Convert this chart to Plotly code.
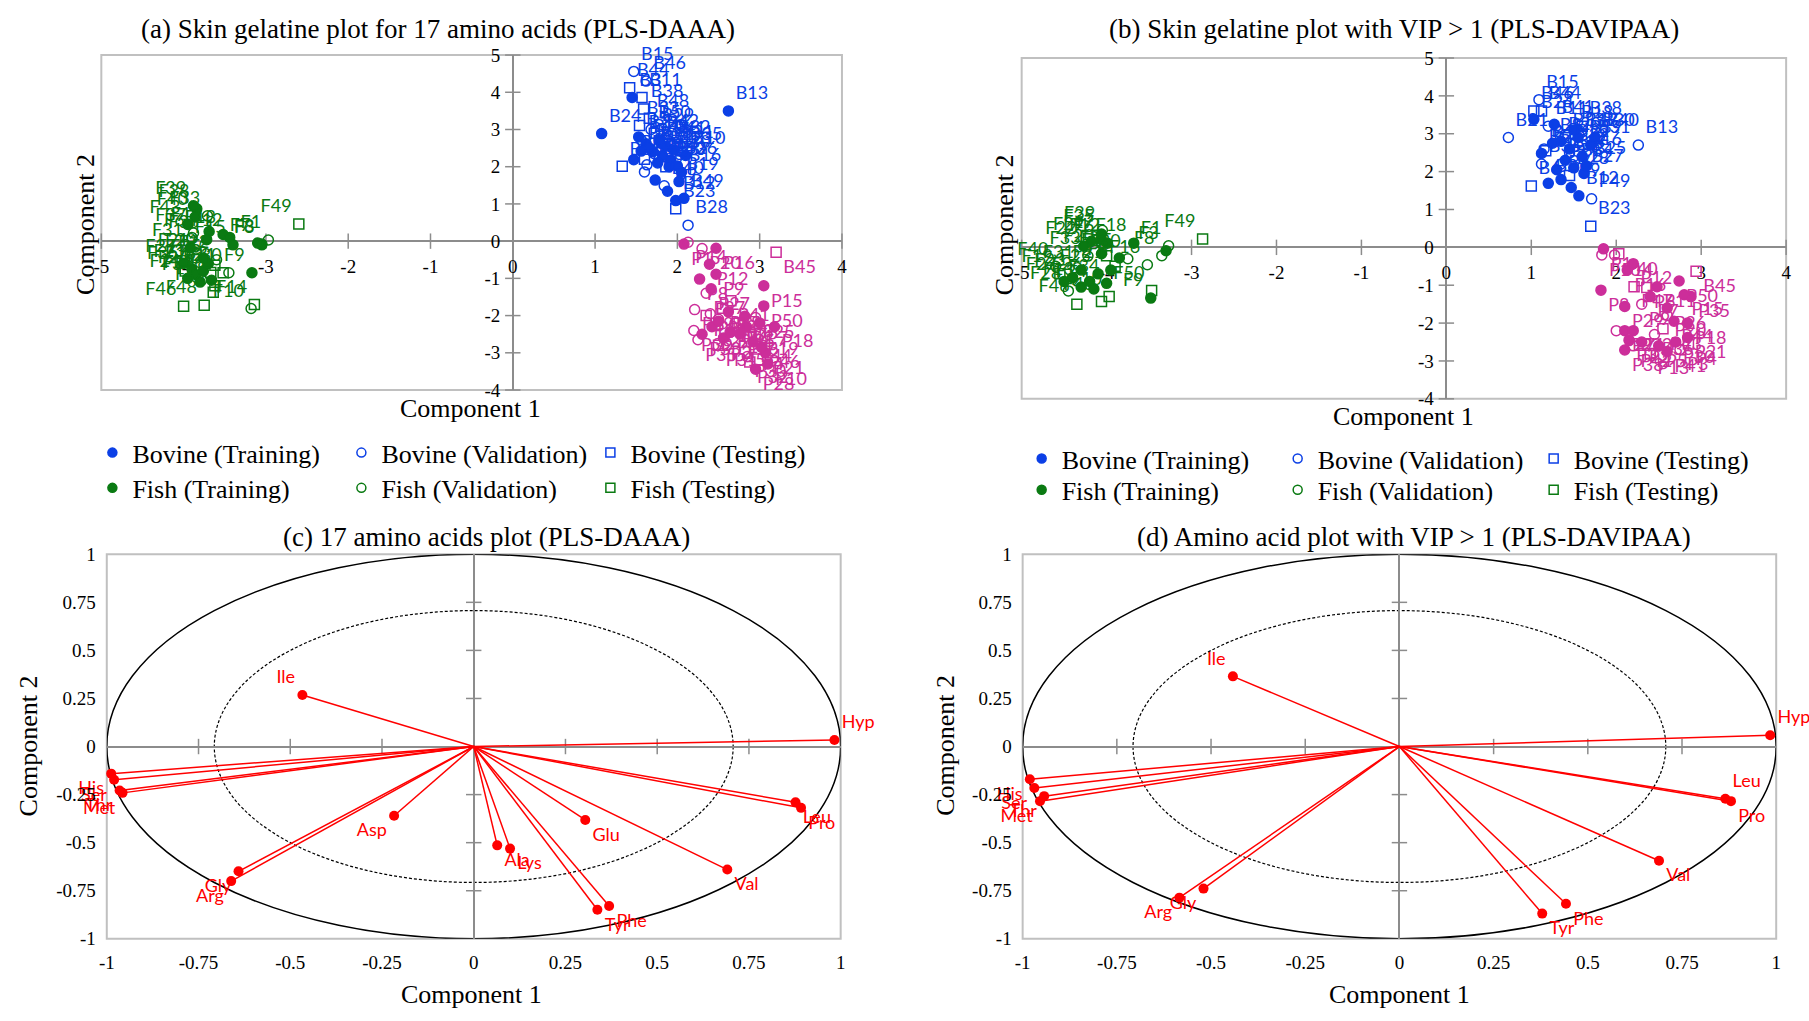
import plotly.graph_objects as go

W, H = 1809, 1021

# ---------------- Panel (a) data : PLS-DAAA scores ----------------
a_bt_x = [2.62, 1.08, 1.45, 1.53, 1.47, 1.73, 1.88, 1.98, 2.08, 1.62, 1.70, 1.82, 1.92, 2.00, 1.76, 2.05, 1.66, 1.86, 1.96, 2.10, 1.56, 2.02, 1.78, 1.90]
a_bt_y = [3.50, 2.89, 3.86, 2.80, 2.19, 1.64, 1.34, 1.09, 1.15, 2.62, 2.40, 2.30, 2.18, 2.02, 2.10, 1.85, 2.50, 2.55, 2.45, 2.30, 2.42, 1.60, 2.70, 2.00]
a_bt_l = ["B13", "B24", "B3", "B5", "B1", "B7", "B9", "B12", "B49", "B20", "B22", "B17", "B30", "B26", "B14", "B16", "B34", "B41", "B31", "B10", "B8", "B19", "B4", "B37"]
a_bv_x = [1.47, 1.62, 2.13, 1.60, 1.84, 1.56, 1.72, 1.92, 2.06, 1.63, 1.78, 1.68]
a_bv_y = [4.56, 4.30, 0.43, 1.86, 1.49, 2.72, 2.35, 2.60, 2.40, 2.05, 2.75, 3.00]
a_bv_l = ["B15", "B46", "B28", "B36", "B40", "B2", "B21", "B32", "B35", "B39", "B42", "B50"]
a_bs_x = [1.42, 1.57, 1.59, 1.54, 1.33, 1.98, 1.60, 1.72, 1.86, 1.66]
a_bs_y = [4.12, 3.86, 3.55, 3.11, 2.01, 0.87, 2.20, 2.90, 2.00, 3.30]
a_bs_l = ["B44", "B11", "B38", "B33", "B6", "B23", "B27", "B29", "B43", "B48"]

a_pt_x = [2.08, 2.47, 2.39, 2.27, 2.47, 2.41, 3.05, 3.05, 2.62, 2.82, 3.00, 3.18, 2.42, 2.56, 2.76, 2.92, 3.07, 2.95, 3.10, 2.64, 2.30, 2.84, 2.50, 3.02]
a_pt_y = [-0.08, -0.19, -0.62, -1.02, -0.89, -1.28, -1.20, -1.74, -1.90, -2.02, -2.20, -2.30, -2.30, -2.60, -2.50, -2.70, -3.00, -3.44, -3.30, -2.45, -2.50, -2.30, -2.15, -2.85]
a_pt_l = ["P1", "P16", "P12", "P8", "P9", "P27", "P15", "P50", "P24", "P3", "P7", "P18", "P22", "P2", "P26", "P44", "P21", "P28", "P10", "P13", "P33", "P5", "P17", "P46"]
a_pv_x = [2.13, 2.21, 2.30, 2.35, 2.20, 2.25, 2.50, 2.70, 3.00, 2.85, 2.60, 2.40, 2.95]
a_pv_y = [-0.03, -1.84, -0.20, -1.40, -2.40, -2.65, -2.10, -2.20, -2.50, -3.10, -2.80, -1.95, -2.05]
a_pv_l = ["P14", "P29", "P20", "P37", "P39", "P35", "P40", "P42", "P19", "P30", "P45", "P34", "P25"]
a_ps_x = [3.20, 2.55, 2.75, 2.50, 2.95, 2.35, 2.65, 2.88]
a_ps_y = [-0.30, -1.80, -2.20, -2.80, -2.90, -2.00, -1.60, -3.25]
a_ps_l = ["B45", "P48", "P6", "P31", "P4", "P11", "P41", "P32"]

a_ft_x = [-3.84, -3.86, -3.52, -3.44, -3.40, -3.69, -3.72, -3.92, -3.17, -3.05, -4.00, -3.90, -3.85, -3.76, -3.95, -3.80, -3.70, -3.66, -3.95, -3.76, -3.10, -3.88]
a_ft_y = [0.87, 0.65, 0.18, 0.10, -0.10, 0.26, 0.04, -0.18, -0.85, -0.10, -0.60, -0.75, -0.90, -0.80, -1.00, -1.10, -0.60, -1.05, 0.45, -0.45, -0.05, 0.95]
a_ft_l = ["F38", "F40", "F18", "F12", "F15", "F17", "F35", "F31", "F9", "F3", "F27", "F23", "F26", "F13", "F24", "F34", "F25", "F16", "F43", "F20", "F7", "F39"]
a_fv_x = [-2.97, -3.05, -3.71, -3.90, -3.88, -3.18, -3.45, -3.85, -3.78, -3.60]
a_fv_y = [0.03, -0.08, 0.68, 0.10, 0.22, -1.81, -0.85, -0.45, -1.05, -0.50]
a_fv_l = ["F1", "F8", "F33", "F6", "F37", "F10", "F30", "F21", "F28", "F22"]
a_fs_x = [-2.60, -3.14, -3.67, -3.52, -3.64, -3.75, -3.62, -3.62, -4.00, -3.98]
a_fs_y = [0.46, -1.70, -0.84, -0.85, -1.37, -1.72, -0.65, -1.20, -1.75, -0.80]
a_fs_l = ["F49", "F14", "F2", "F11", "F44", "F48", "F5", "F19", "F46", "F36"]

# ---------------- Panel (b) data : PLS-DAVIPAA scores ----------------
b_bt_x = [1.03, 1.27, 1.20, 1.35, 1.47, 1.56, 1.62, 1.12, 1.35, 1.45, 1.55, 1.60, 1.40, 1.70, 1.50, 1.30, 1.65, 1.25, 1.75, 1.50]
b_bt_y = [3.38, 3.25, 1.69, 1.79, 1.58, 1.36, 1.95, 2.48, 2.80, 2.60, 2.90, 2.40, 2.30, 2.70, 3.10, 2.05, 2.15, 2.75, 2.90, 2.10]
b_bt_l = ["B24", "B41", "B2", "B7", "B9", "B12", "B27", "B5", "B20", "B22", "B17", "B16", "B14", "B31", "B18", "B3", "B25", "B8", "B30", "B34"]
b_bv_x = [2.26, 0.73, 1.09, 1.71, 1.12, 1.20, 1.60, 1.45, 1.80, 1.15, 1.35]
b_bv_y = [2.70, 2.90, 3.90, 1.28, 2.20, 3.20, 2.70, 2.50, 2.90, 2.60, 2.20]
b_bv_l = ["B13", "B21", "B15", "P49", "B36", "B11", "B39", "B32", "B40", "B42", "B35"]
b_bs_x = [1.03, 1.12, 1.00, 1.70, 1.17, 1.45, 1.40, 1.60]
b_bs_y = [3.60, 3.60, 1.62, 0.56, 2.55, 1.90, 2.90, 3.20]
b_bs_l = ["B46", "B44", "B6", "B23", "B26", "B28", "B33", "B38"]

b_pt_x = [1.85, 2.13, 2.20, 1.82, 2.74, 2.88, 2.10, 2.48, 2.60, 2.68, 2.84, 2.10, 2.20, 2.10, 2.84, 2.30, 2.50, 2.70, 2.40, 2.15, 2.60, 2.80]
b_pt_y = [-0.04, -0.60, -0.43, -1.13, -0.89, -1.30, -1.56, -1.04, -1.60, -1.95, -2.00, -2.20, -2.20, -2.71, -2.38, -2.50, -2.60, -2.50, -1.30, -2.45, -2.75, -1.25]
b_pt_l = ["P1", "P16", "P12", "P8", "P50", "P35", "P29", "P11", "P26", "P44", "P18", "P24", "P22", "P38", "P21", "P2", "P5", "P30", "P7", "P33", "P41", "P15"]
b_pv_x = [1.83, 1.98, 2.00, 2.30, 2.45, 2.75, 2.20, 2.60]
b_pv_y = [-0.20, -0.20, -2.20, -1.50, -2.30, -2.70, -2.60, -1.80]
b_pv_l = ["P10", "P14", "P27", "P9", "P36", "P3", "P42", "P20"]
b_ps_x = [2.03, 2.94, 2.21, 2.36, 2.55, 2.40, 2.85]
b_ps_y = [-0.17, -0.63, -1.04, -1.06, -2.15, -2.80, -2.55]
b_ps_l = ["P40", "B45", "P47", "P6", "P43", "P13", "P4"]

b_ft_x = [-3.30, -3.48, -3.68, -4.06, -4.06, -4.18, -4.27, -3.99, -3.85, -4.06, -4.30, -4.40, -4.20, -4.10, -4.00, -4.30, -4.50, -4.15, -3.95]
b_ft_y = [-0.09, -1.34, 0.11, 0.35, 0.20, 0.16, 0.03, 0.11, -0.28, -0.17, -0.60, -0.80, -0.90, -0.70, -0.95, -1.05, -0.90, -1.10, -0.60]
b_ft_l = ["F3", "F9", "F18", "F35", "F17", "F29", "F22", "F12", "F15", "F20", "F31", "F23", "F26", "F25", "F34", "F13", "F27", "F24", "F21"]
b_fv_x = [-3.27, -3.35, -4.06, -4.22, -3.75, -3.52, -4.60, -4.45, -4.05]
b_fv_y = [0.04, -0.22, 0.10, -0.23, -0.30, -0.46, -0.50, -1.15, 0.45]
b_fv_l = ["F1", "F8", "F6", "F33", "F30", "F16", "F40", "F28", "F39"]
b_fs_x = [-2.87, -3.47, -4.00, -3.97, -4.06, -3.90, -4.35, -4.55]
b_fs_y = [0.22, -1.14, -0.22, -1.30, -1.43, -0.50, -1.50, -0.70]
b_fs_l = ["F49", "F50", "F2", "F10", "F48", "F5", "F46", "F19"]

# ---------------- Panel (c) / (d) data : loadings ----------------
c_names = ["Hyp", "Ile", "His", "Ser", "Thr", "Met", "Asp", "Gly", "Arg", "Ala", "Lys", "Glu", "Tyr", "Phe", "Val", "Leu", "Pro"]
c_x = [0.983, -0.467, -0.988, -0.980, -0.965, -0.957, -0.217, -0.641, -0.661, 0.064, 0.099, 0.304, 0.337, 0.369, 0.691, 0.877, 0.892]
c_y = [0.034, 0.268, -0.141, -0.173, -0.229, -0.241, -0.360, -0.649, -0.700, -0.514, -0.531, -0.382, -0.849, -0.829, -0.640, -0.290, -0.319]
c_pos = ["top right", "top left", "bottom left", "bottom left", "bottom left", "bottom left", "bottom left", "bottom left", "bottom left",
         "bottom right", "bottom right", "bottom right", "bottom right", "bottom right", "bottom right", "bottom right", "bottom right"]

d_names = ["Hyp", "Ile", "His", "Ser", "Thr", "Met", "Gly", "Arg", "Tyr", "Phe", "Val", "Leu", "Pro"]
d_x = [0.984, -0.442, -0.981, -0.969, -0.943, -0.954, -0.520, -0.584, 0.379, 0.442, 0.689, 0.865, 0.880]
d_y = [0.059, 0.365, -0.170, -0.216, -0.258, -0.284, -0.739, -0.786, -0.869, -0.818, -0.594, -0.272, -0.284]
d_pos = ["top right", "top left", "bottom left", "bottom left", "bottom left", "bottom left", "bottom left", "bottom left",
         "bottom right", "bottom right", "bottom right", "top right", "bottom right"]

# ticks
ab_xticks = [-5, -4, -3, -2, -1, 0, 1, 2, 3, 4]
ab_yticks = [-4, -3, -2, -1, 0, 1, 2, 3, 4, 5]
cd_ticks = [-1, -0.75, -0.5, -0.25, 0, 0.25, 0.5, 0.75, 1]
cd_ticktext = ["-1", "-0.75", "-0.5", "-0.25", "0", "0.25", "0.5", "0.75", "1"]

legend_names = ["Bovine (Training)", "Bovine (Validation)", "Bovine (Testing)",
                "Fish (Training)", "Fish (Validation)", "Fish (Testing)"]

# ---------------- styles ----------------
BLUE = "#0B3FE6"
GREEN = "#0A7A12"
PINK = "#CC2E9A"
RED = "#FF0000"
AXG = "#8C8C8C"
FRAME = "#C0C0C0"
SERIF = "Liberation Serif"
SANS = "Lato"


def px(x):
    return x / W


def py(y):
    return 1 - y / H


A_X = [px(94), px(840)]
A_Y = [py(388), py(46)]
B_X = [px(1021), px(1791)]
B_Y = [py(397), py(49)]
C_X = [px(99.5), px(838.7)]
C_Y = [py(948.3), py(555.7)]
D_X = [px(1022), px(1781)]
D_Y = C_Y

fig = go.Figure()


def pts(x, y, lab, xa, ya, color, symbol, tpos):
    fig.add_trace(go.Scatter(
        x=x, y=y, text=lab, mode="markers+text", xaxis=xa, yaxis=ya,
        marker=dict(symbol=symbol, size=10, color=color, line=dict(color=color, width=1.5)),
        textposition=tpos, textfont=dict(family=SANS, size=18, color=color),
        showlegend=False, cliponaxis=False, hoverinfo="skip"))


def tickmarks(xa, ya, xt, yt):
    xs = [v for v in xt if v != 0]
    ys = [v for v in yt if v != 0]
    fig.add_trace(go.Scatter(x=xs, y=[0] * len(xs), mode="markers", xaxis=xa, yaxis=ya,
                             marker=dict(symbol="line-ns", size=11, line=dict(color=AXG, width=1.5)),
                             showlegend=False, hoverinfo="skip", cliponaxis=False))
    fig.add_trace(go.Scatter(x=[0] * len(ys), y=ys, mode="markers", xaxis=xa, yaxis=ya,
                             marker=dict(symbol="line-ew", size=11, line=dict(color=AXG, width=1.5)),
                             showlegend=False, hoverinfo="skip", cliponaxis=False))


# score plots
tickmarks("x", "y", ab_xticks, ab_yticks)
tickmarks("x2", "y2", ab_xticks, ab_yticks)

for (xa, ya, groups) in [
    ("x", "y", [
        (a_bt_x, a_bt_y, a_bt_l, BLUE, "circle", "top right"),
        (a_bv_x, a_bv_y, a_bv_l, BLUE, "circle-open", "top right"),
        (a_bs_x, a_bs_y, a_bs_l, BLUE, "square-open", "top right"),
        (a_pt_x, a_pt_y, a_pt_l, PINK, "circle", "bottom right"),
        (a_pv_x, a_pv_y, a_pv_l, PINK, "circle-open", "bottom right"),
        (a_ps_x, a_ps_y, a_ps_l, PINK, "square-open", "bottom right"),
        (a_ft_x, a_ft_y, a_ft_l, GREEN, "circle", "top left"),
        (a_fv_x, a_fv_y, a_fv_l, GREEN, "circle-open", "top left"),
        (a_fs_x, a_fs_y, a_fs_l, GREEN, "square-open", "top left")]),
    ("x2", "y2", [
        (b_bt_x, b_bt_y, b_bt_l, BLUE, "circle", "top right"),
        (b_bv_x, b_bv_y, b_bv_l, BLUE, "circle-open", "top right"),
        (b_bs_x, b_bs_y, b_bs_l, BLUE, "square-open", "top right"),
        (b_pt_x, b_pt_y, b_pt_l, PINK, "circle", "bottom right"),
        (b_pv_x, b_pv_y, b_pv_l, PINK, "circle-open", "bottom right"),
        (b_ps_x, b_ps_y, b_ps_l, PINK, "square-open", "bottom right"),
        (b_ft_x, b_ft_y, b_ft_l, GREEN, "circle", "top left"),
        (b_fv_x, b_fv_y, b_fv_l, GREEN, "circle-open", "top left"),
        (b_fs_x, b_fs_y, b_fs_l, GREEN, "square-open", "top left")]),
]:
    for g in groups:
        pts(g[0], g[1], g[2], xa, ya, g[3], g[4], g[5])

# legend entries
sym = ["circle", "circle-open", "square-open"]
for (xa, ya, lg1, lg2) in [("x", "y", "legend", "legend2"), ("x2", "y2", "legend3", "legend4")]:
    for i, nm in enumerate(legend_names):
        col = BLUE if i < 3 else GREEN
        fig.add_trace(go.Scatter(
            x=[None], y=[None], mode="markers", name=nm, xaxis=xa, yaxis=ya,
            marker=dict(symbol=sym[i % 3], size=9, color=col, line=dict(color=col, width=1.5)),
            legend=lg1 if i < 3 else lg2, showlegend=True))

# loading plots
for (xa, ya, nx, ny, nn, npos) in [("x3", "y3", c_x, c_y, c_names, c_pos), ("x4", "y4", d_x, d_y, d_names, d_pos)]:
    tickmarks(xa, ya, [-0.75, -0.5, -0.25, 0.25, 0.5, 0.75], [-0.75, -0.5, -0.25, 0.25, 0.5, 0.75])
    lx, ly = [], []
    for vx, vy in zip(nx, ny):
        lx += [0, vx, None]
        ly += [0, vy, None]
    fig.add_trace(go.Scatter(x=lx, y=ly, mode="lines", xaxis=xa, yaxis=ya,
                             line=dict(color=RED, width=1.5), showlegend=False, hoverinfo="skip"))
    fig.add_trace(go.Scatter(x=nx, y=ny, text=nn, mode="markers+text", xaxis=xa, yaxis=ya,
                             marker=dict(color=RED, size=10), textposition=npos,
                             textfont=dict(family=SANS, size=18, color=RED),
                             showlegend=False, cliponaxis=False, hoverinfo="skip"))

# ---------------- axes ----------------
tickfont = dict(family=SERIF, size=19, color="black")


def free_axes(dx, dy):
    ypos = dy[0] + (dy[1] - dy[0]) * 4 / 9
    xpos = dx[0] + (dx[1] - dx[0]) * 5 / 9
    xa = dict(domain=dx, range=[-5, 4], anchor="free", position=ypos, showline=True, linecolor=AXG,
              linewidth=1.5, ticks="", tickvals=ab_xticks, ticktext=[str(v) for v in ab_xticks],
              showgrid=False, zeroline=False, tickfont=tickfont, layer="below traces", ticklabelstandoff=8)
    ya = dict(domain=dy, range=[-4, 5], anchor="free", position=xpos, showline=True, linecolor=AXG,
              linewidth=1.5, ticks="", tickvals=ab_yticks, ticktext=[str(v) for v in ab_yticks],
              showgrid=False, zeroline=False, tickfont=tickfont, layer="below traces", ticklabelstandoff=8)
    return xa, ya


def circ_axes(dx, dy, xa_name, ya_name):
    xa = dict(domain=dx, range=[-1, 1], anchor=ya_name, showline=False, ticks="", tickvals=cd_ticks,
              ticktext=cd_ticktext, showgrid=False, zeroline=True, zerolinecolor=AXG, zerolinewidth=1.5,
              tickfont=tickfont, ticklabelstandoff=10)
    ya = dict(domain=dy, range=[-1, 1], anchor=xa_name, showline=False, ticks="", tickvals=cd_ticks,
              ticktext=cd_ticktext, showgrid=False, zeroline=True, zerolinecolor=AXG, zerolinewidth=1.5,
              tickfont=tickfont, ticklabelstandoff=10)
    return xa, ya


xa1, ya1 = free_axes(A_X, A_Y)
xa2, ya2 = free_axes(B_X, B_Y)
xa3, ya3 = circ_axes(C_X, C_Y, "x3", "y3")
xa4, ya4 = circ_axes(D_X, D_Y, "x4", "y4")

shapes = []
for xr, yr in [("x", "y"), ("x2", "y2"), ("x3", "y3"), ("x4", "y4")]:
    shapes.append(dict(type="rect", xref=xr + " domain", yref=yr + " domain", x0=0, x1=1, y0=0, y1=1,
                       line=dict(color=FRAME, width=2), layer="below"))
for xr, yr in [("x3", "y3"), ("x4", "y4")]:
    shapes.append(dict(type="circle", xref=xr, yref=yr, x0=-1, x1=1, y0=-1, y1=1,
                       line=dict(color="black", width=1.5), layer="below"))
    shapes.append(dict(type="circle", xref=xr, yref=yr, x0=-0.707, x1=0.707, y0=-0.707, y1=0.707,
                       line=dict(color="black", width=1.2, dash="3px,2px"), layer="below"))

titles = [
    ("(a) Skin gelatine plot for 17 amino acids (PLS-DAAA)", 433, 19),
    ("(b) Skin gelatine plot with VIP > 1 (PLS-DAVIPAA)", 1396, 19),
    ("(c) 17 amino acids plot (PLS-DAAA)", 482, 538),
    ("(d) Amino acid plot with VIP > 1 (PLS-DAVIPAA)", 1416, 538),
]
ann = []
for t, x, y in titles:
    ann.append(dict(text=t, x=px(x), y=py(y), xref="paper", yref="paper", showarrow=False,
                    xanchor="center", yanchor="middle", font=dict(family=SERIF, size=27, color="black")))
axt = [("Component 1", 466, 407, 0), ("Component 2", 78, 219, -90),
       ("Component 1", 1406, 415, 0), ("Component 2", 1004, 219, -90),
       ("Component 1", 467, 1005, 0), ("Component 2", 21, 751, -90),
       ("Component 1", 1402, 1005, 0), ("Component 2", 944, 751, -90)]
for t, x, y, r in axt:
    ann.append(dict(text=t, x=px(x), y=py(y), xref="paper", yref="paper", showarrow=False,
                    xanchor="center", yanchor="middle", textangle=r,
                    font=dict(family=SERIF, size=26, color="black")))


def leg(x, y, ew):
    return dict(orientation="h", x=px(x), y=py(y), xanchor="left", yanchor="middle",
                font=dict(family=SERIF, size=26, color="black"), entrywidth=ew, entrywidthmode="pixels",
                itemwidth=30, bgcolor="rgba(0,0,0,0)", tracegroupgap=0, traceorder="normal")


fig.update_layout(
    width=W, height=H, autosize=False, margin=dict(l=0, r=0, t=0, b=0),
    paper_bgcolor="white", plot_bgcolor="white", hovermode=False,
    xaxis=xa1, yaxis=ya1, xaxis2=xa2, yaxis2=ya2, xaxis3=xa3, yaxis3=ya3, xaxis4=xa4, yaxis4=ya4,
    shapes=shapes, annotations=ann,
    legend=leg(85, 452, 204), legend2=leg(85, 488, 204),
    legend3=leg(1021, 458, 211), legend4=leg(1021, 490, 211),
)

fig.write_html("out.html")
